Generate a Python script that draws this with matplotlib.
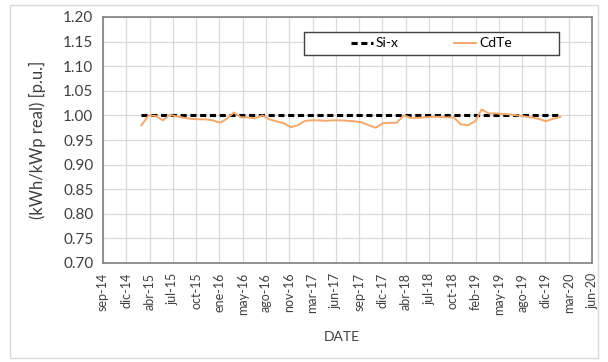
import numpy as np
import pandas as pd
import matplotlib
matplotlib.use('Agg')
import matplotlib.pyplot as plt
from matplotlib.patches import Rectangle

plt.rcParams['font.family'] = ['Lato', 'DejaVu Sans']

# monthly performance ratio, normalised to the Si-x reference
months = pd.date_range('2015-03-01', periods=60, freq='MS')
si_x = [1.00] * 60
cdte = [0.980, 1.000, 0.999, 0.990, 1.001, 0.998, 0.995, 0.993, 0.992, 0.992,
        0.990, 0.985, 0.993, 1.006, 0.996, 0.996, 0.994, 1.000, 0.992, 0.988,
        0.984, 0.976, 0.980, 0.989, 0.990, 0.990, 0.989, 0.990, 0.990, 0.989,
        0.988, 0.986, 0.980, 0.975, 0.984, 0.985, 0.985, 1.000, 0.995, 0.995,
        0.996, 0.997, 0.997, 0.996, 0.996, 0.982, 0.980, 0.988, 1.012, 1.004,
        1.004, 1.003, 1.002, 1.000, 0.998, 0.996, 0.993, 0.988, 0.993, 0.997]

tick_labels = ['sep-14', 'dic-14', 'abr-15', 'jul-15', 'oct-15', 'ene-16',
               'may-16', 'ago-16', 'nov-16', 'mar-17', 'jun-17', 'sep-17',
               'dic-17', 'abr-18', 'jul-18', 'oct-18', 'feb-19', 'may-19',
               'ago-19', 'dic-19', 'mar-20', 'jun-20']

# date axis in days, major unit of 100 days like the spreadsheet
origin = pd.Timestamp('2014-09-17')
x = (months - origin).days.values
ticks = np.arange(len(tick_labels)) * 100

fig = plt.figure(figsize=(6.08, 3.62), dpi=100)
fig.patches.append(Rectangle((10 / 608, 4 / 362), 588 / 608, 353 / 362,
                             transform=fig.transFigure, fill=False,
                             edgecolor='#d9d9d9', linewidth=1))
ax = fig.add_axes([103 / 608, 1 - 263 / 362, 489 / 608, 246 / 362])

ax.plot(x, si_x, color='black', linestyle=(0, (2, 1.2)), linewidth=2.2,
        label='Si-x', zorder=3)
ax.plot(x, cdte, color='#f4a86a', linewidth=1.4, label='CdTe', zorder=4)

ax.set_xlim(ticks[0], ticks[-1])
ax.set_ylim(0.70, 1.20)
ax.set_yticks(np.arange(0.70, 1.201, 0.05))
ax.set_yticklabels(['%.2f' % v for v in np.arange(0.70, 1.201, 0.05)],
                   fontsize=11, color='#404040')
ax.set_xticks(ticks)
ax.set_xticklabels(tick_labels, rotation=90, fontsize=9, color='#404040')
ax.tick_params(length=0, pad=7)

ax.grid(True, color='#d9d9d9', linewidth=0.9)
ax.set_axisbelow(True)
for s in ax.spines.values():
    s.set_color('#808080')
    s.set_linewidth(1.2)

ax.set_ylabel('(kWh/kWp real) [p.u.]', fontsize=12, color='#404040', labelpad=12)
fig.text(342 / 608, 1 - 337 / 362, 'DATE', fontsize=10, color='#404040',
         ha='center', va='center')

# legend box drawn separately so the entries sit centred inside it
ax.add_patch(Rectangle((0.411, 0.846), 0.521, 0.093, transform=ax.transAxes,
                       facecolor='white', edgecolor='#404040', linewidth=1.0,
                       zorder=5))
leg = ax.legend(loc='center', bbox_to_anchor=(0.6715, 0.8925), ncol=2,
                frameon=False, fontsize=10, handlelength=1.6,
                handletextpad=0.2, columnspacing=4.0, borderaxespad=0)
leg.set_zorder(6)

fig.savefig('out.png', dpi=100)
